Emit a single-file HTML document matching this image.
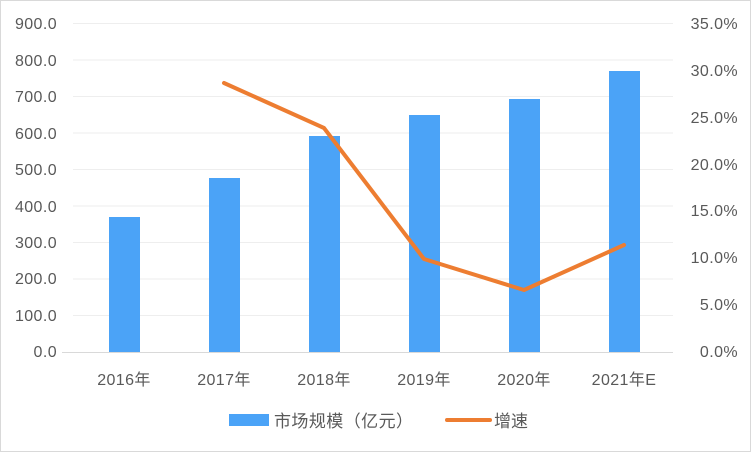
<!DOCTYPE html>
<html><head><meta charset="utf-8"><style>
html,body{margin:0;padding:0;background:#fff;}
svg text{font-family:"Liberation Sans","Noto Sans CJK SC",sans-serif;font-size:16px;fill:#595959;letter-spacing:0.4px;}
</style></head><body>
<svg width="752" height="452" xmlns="http://www.w3.org/2000/svg">
<rect x="0.5" y="0.5" width="750" height="451" fill="#fff" stroke="#d9d9d9"/>
<g stroke="#eeeeee" stroke-width="1">
<line x1="73" y1="23.5" x2="673" y2="23.5"/><line x1="73" y1="60" x2="673" y2="60"/>
<line x1="73" y1="96.5" x2="673" y2="96.5"/><line x1="73" y1="133" x2="673" y2="133"/>
<line x1="73" y1="169.5" x2="673" y2="169.5"/><line x1="73" y1="206" x2="673" y2="206"/>
<line x1="73" y1="242.5" x2="673" y2="242.5"/><line x1="73" y1="279" x2="673" y2="279"/>
<line x1="73" y1="315.5" x2="673" y2="315.5"/>
</g>
<g text-anchor="end">
<text x="57" y="29">900.0</text><text x="57" y="66">800.0</text><text x="57" y="102">700.0</text>
<text x="57" y="139">600.0</text><text x="57" y="175">500.0</text><text x="57" y="212">400.0</text>
<text x="57" y="248">300.0</text><text x="57" y="284">200.0</text><text x="57" y="321">100.0</text>
<text x="57" y="357">0.0</text>
<text x="738" y="29">35.0%</text><text x="738" y="76">30.0%</text><text x="738" y="123">25.0%</text>
<text x="738" y="170">20.0%</text><text x="738" y="216">15.0%</text><text x="738" y="263">10.0%</text>
<text x="738" y="310">5.0%</text><text x="738" y="357">0.0%</text>
</g>
<g fill="#4BA3F7">
<rect x="109" y="217" width="31" height="135"/>
<rect x="209" y="178" width="31" height="174"/>
<rect x="309" y="136" width="31" height="216"/>
<rect x="409" y="115" width="31" height="237"/>
<rect x="509" y="99" width="31" height="253"/>
<rect x="609" y="71" width="31" height="281"/>
</g>
<line x1="62" y1="352.5" x2="673" y2="352.5" stroke="#d9d9d9"/>
<polyline points="224,83 324,128 424,259 524,290 624,245" fill="none" stroke="#ED7D31" stroke-width="4" stroke-linejoin="round" stroke-linecap="round"/>
<g text-anchor="middle">
<text x="124" y="385">2016年</text><text x="224" y="385">2017年</text><text x="324" y="385">2018年</text>
<text x="424" y="385">2019年</text><text x="524" y="385">2020年</text><text x="624" y="385">2021年E</text>
</g>
<rect x="229" y="414" width="40" height="12" fill="#4BA3F7"/>
<text x="274" y="427" style="font-size:17px;letter-spacing:0" textLength="139">市场规模（亿元）</text>
<line x1="447" y1="420" x2="490" y2="420" stroke="#ED7D31" stroke-width="4" stroke-linecap="round"/>
<text x="494" y="427" style="font-size:17px;letter-spacing:0">增速</text>
</svg>
</body></html>
